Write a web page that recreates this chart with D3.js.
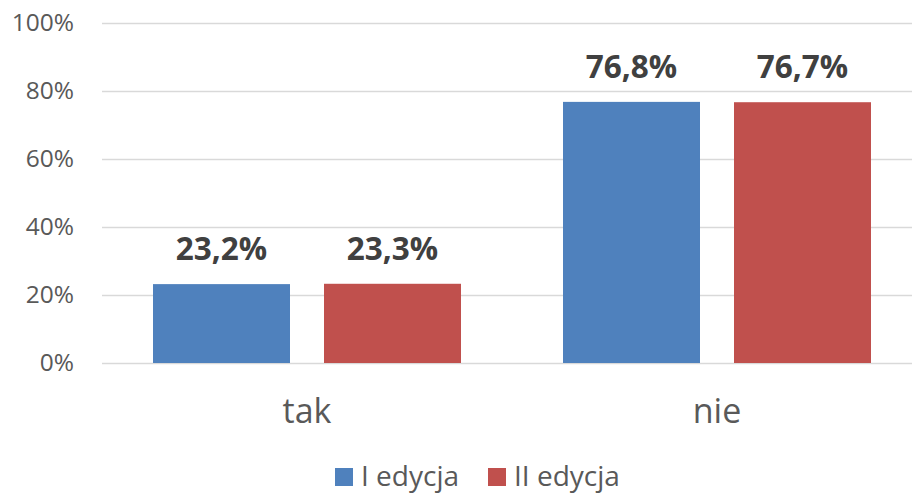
<!DOCTYPE html>
<html><head><meta charset="utf-8">
<script src="https://cdn.jsdelivr.net/npm/d3@7"></script>
<style>body{margin:0;background:#fff;}svg{display:block;font-family:"Open Sans", sans-serif;}</style>
</head><body><svg id="c" width="912" height="493"></svg>
<script>
const categories = ["tak", "nie"];
const seriesNames = ["I edycja", "II edycja"];
const seriesI = [23.2, 76.8];
const seriesII = [23.3, 76.7];
const yTicks = [0, 20, 40, 60, 80, 100];
const colors = ["#4f81bd", "#c0504d"];

const svg = d3.select("#c");
const x0 = d3.scaleBand().domain(categories).range([102, 922]).paddingInner(0).paddingOuter(0);
const x1 = d3.scaleBand().domain(seriesNames).range([51, 410 - 51]).paddingInner(34 / 171);
const y = d3.scaleLinear().domain([0, 100]).range([363, 23]);

// gridlines
svg.append("g").selectAll("line").data(yTicks).join("line")
  .attr("x1", 102).attr("x2", 922)
  .attr("y1", d => Math.round(y(d)) + 0.5).attr("y2", d => Math.round(y(d)) + 0.5)
  .attr("stroke", "#d9d9d9").attr("stroke-width", 1.5);

// y tick labels
const yAxis = d3.axisLeft(y).tickValues(yTicks).tickFormat(d => d + "%").tickSize(0).tickPadding(0);
const ga = svg.append("g").attr("transform", "translate(74,0)").call(yAxis);
ga.select(".domain").remove();
ga.selectAll("text").attr("fill", "#595959").style("font-size", "24.5px").style("font-family", "'Open Sans', sans-serif");

const data = categories.map((c, i) => ({cat: c, vals: [seriesI[i], seriesII[i]]}));
const groups = svg.append("g").selectAll("g").data(data).join("g")
  .attr("transform", d => `translate(${x0(d.cat)},0)`);
groups.selectAll("rect").data(d => d.vals.map((v, j) => ({v, s: seriesNames[j], j}))).join("rect")
  .attr("x", d => x1(d.s)).attr("width", x1.bandwidth())
  .attr("y", d => y(d.v)).attr("height", d => y(0) - y(d.v))
  .attr("fill", d => colors[d.j]);
groups.selectAll("text.lbl").data(d => d.vals.map((v, j) => ({v, s: seriesNames[j], j}))).join("text")
  .attr("class", "lbl")
  .attr("x", d => x1(d.s) + x1.bandwidth() / 2).attr("y", d => y(d.v) - 24)
  .attr("text-anchor", "middle").attr("fill", "#404040")
  .style("font-size", "31.5px").style("font-weight", "bold")
  .text(d => d.v.toFixed(1).replace(".", ",") + "%");

// category labels
svg.append("g").selectAll("text").data(categories).join("text")
  .attr("x", d => x0(d) + x0.bandwidth() / 2).attr("y", 423)
  .attr("text-anchor", "middle").attr("fill", "#595959")
  .style("font-size", "34px").text(d => d);

// legend
const legX = [335, 488];
const leg = svg.append("g").selectAll("g").data(seriesNames).join("g")
  .attr("transform", (d, i) => `translate(${legX[i]},468)`);
leg.append("rect").attr("width", 18).attr("height", 18).attr("fill", (d, i) => colors[i]);
leg.append("text").attr("x", 26).attr("y", 18).attr("fill", "#595959")
  .style("font-size", "28px").text(d => d);
</script></body></html>
